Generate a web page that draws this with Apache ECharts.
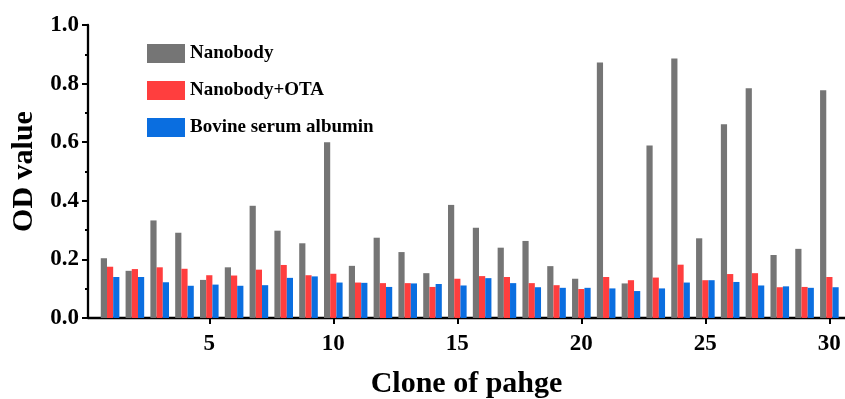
<!DOCTYPE html>
<html lang="en">
<head>
    <meta charset="UTF-8">
    <title>OD value by clone</title>
    <script src="https://cdn.jsdelivr.net/npm/echarts@6/dist/echarts.min.js"></script>
    <style>
        html, body { margin: 0; padding: 0; background: #fff; }
    </style>
</head>
<body>
    <div id="chart" style="width: 845px; height: 399px;"></div>

    <script>
        var clones = [1, 2, 3, 4, 5, 6, 7, 8, 9, 10, 11, 12, 13, 14, 15,
                      16, 17, 18, 19, 20, 21, 22, 23, 24, 25, 26, 27, 28, 29, 30];
        var nanobody = [0.204, 0.161, 0.333, 0.291, 0.130, 0.173, 0.383, 0.298, 0.255, 0.600,
                        0.178, 0.274, 0.225, 0.153, 0.386, 0.308, 0.240, 0.263, 0.177, 0.134,
                        0.872, 0.118, 0.589, 0.886, 0.272, 0.661, 0.784, 0.215, 0.236, 0.777];
        var nanobodyOta = [0.175, 0.167, 0.173, 0.168, 0.146, 0.145, 0.165, 0.181, 0.146, 0.151,
                           0.121, 0.119, 0.119, 0.106, 0.134, 0.143, 0.140, 0.119, 0.112, 0.099,
                           0.140, 0.129, 0.138, 0.182, 0.129, 0.150, 0.153, 0.105, 0.106, 0.140];
        var bsa = [0.140, 0.140, 0.122, 0.110, 0.114, 0.110, 0.112, 0.137, 0.142, 0.121,
                   0.120, 0.106, 0.118, 0.116, 0.111, 0.136, 0.119, 0.105, 0.103, 0.103,
                   0.101, 0.092, 0.101, 0.121, 0.129, 0.123, 0.111, 0.108, 0.103, 0.105];
        var xTicks = [5, 10, 15, 20, 25, 30];
        var seriesNames = ['Nanobody', 'Nanobody+OTA', 'Bovine serum albumin'];
        var colors = ['#757575', '#FF3E3E', '#0A6EE0'];

        var font = '"Liberation Serif", "Times New Roman", serif';

        function pairs(values) {
            return clones.map(function (c, i) { return [c, values[i]]; });
        }

        var chart = echarts.init(document.getElementById('chart'));

        chart.setOption({
            animation: false,
            textStyle: { fontFamily: font },
            grid: { left: 88, right: 0, top: 25, bottom: 81, containLabel: false, outerBoundsMode: 'none' },
            legend: {
                orient: 'vertical',
                left: 142,
                top: 39,
                itemWidth: 38,
                itemHeight: 19,
                itemGap: 18,
                icon: 'rect',
                data: seriesNames,
                textStyle: { fontFamily: font, fontWeight: 'bold', fontSize: 19, color: '#000' }
            },
            xAxis: {
                type: 'value',
                min: 0.11,
                max: 30.63,
                name: 'Clone of pahge',
                nameLocation: 'middle',
                nameGap: 51,
                nameTextStyle: { fontFamily: font, fontWeight: 'bold', fontSize: 30, color: '#000' },
                splitLine: { show: false },
                axisLine: { show: true, onZero: false, lineStyle: { color: '#000', width: 2.3 } },
                axisTick: { show: true, length: 6, lineStyle: { color: '#000', width: 2 }, customValues: xTicks },
                axisLabel: {
                    fontFamily: font, fontWeight: 'bold', fontSize: 23, color: '#000', margin: 15,
                    customValues: xTicks
                }
            },
            yAxis: {
                type: 'value',
                min: 0,
                max: 1,
                interval: 0.2,
                name: 'OD value',
                nameLocation: 'middle',
                nameGap: 47,
                nameRotate: 90,
                nameTextStyle: { fontFamily: font, fontWeight: 'bold', fontSize: 30, color: '#000' },
                splitLine: { show: false },
                axisLine: { show: true, onZero: false, lineStyle: { color: '#000', width: 2.3 } },
                axisTick: { show: true, length: 6, lineStyle: { color: '#000', width: 2 } },
                minorTick: { show: true, splitNumber: 2, length: 3, lineStyle: { color: '#000', width: 2 } },
                axisLabel: {
                    fontFamily: font, fontWeight: 'bold', fontSize: 23, color: '#000', margin: 9,
                    formatter: function (v) { return v.toFixed(1); }
                }
            },
            series: [
                { name: seriesNames[0], type: 'bar', data: pairs(nanobody), barWidth: 6.2, barGap: '0%', itemStyle: { color: colors[0] } },
                { name: seriesNames[1], type: 'bar', data: pairs(nanobodyOta), barWidth: 6.2, barGap: '0%', itemStyle: { color: colors[1] } },
                { name: seriesNames[2], type: 'bar', data: pairs(bsa), barWidth: 6.2, barGap: '0%', itemStyle: { color: colors[2] } }
            ]
        });
    </script>
</body>
</html>
